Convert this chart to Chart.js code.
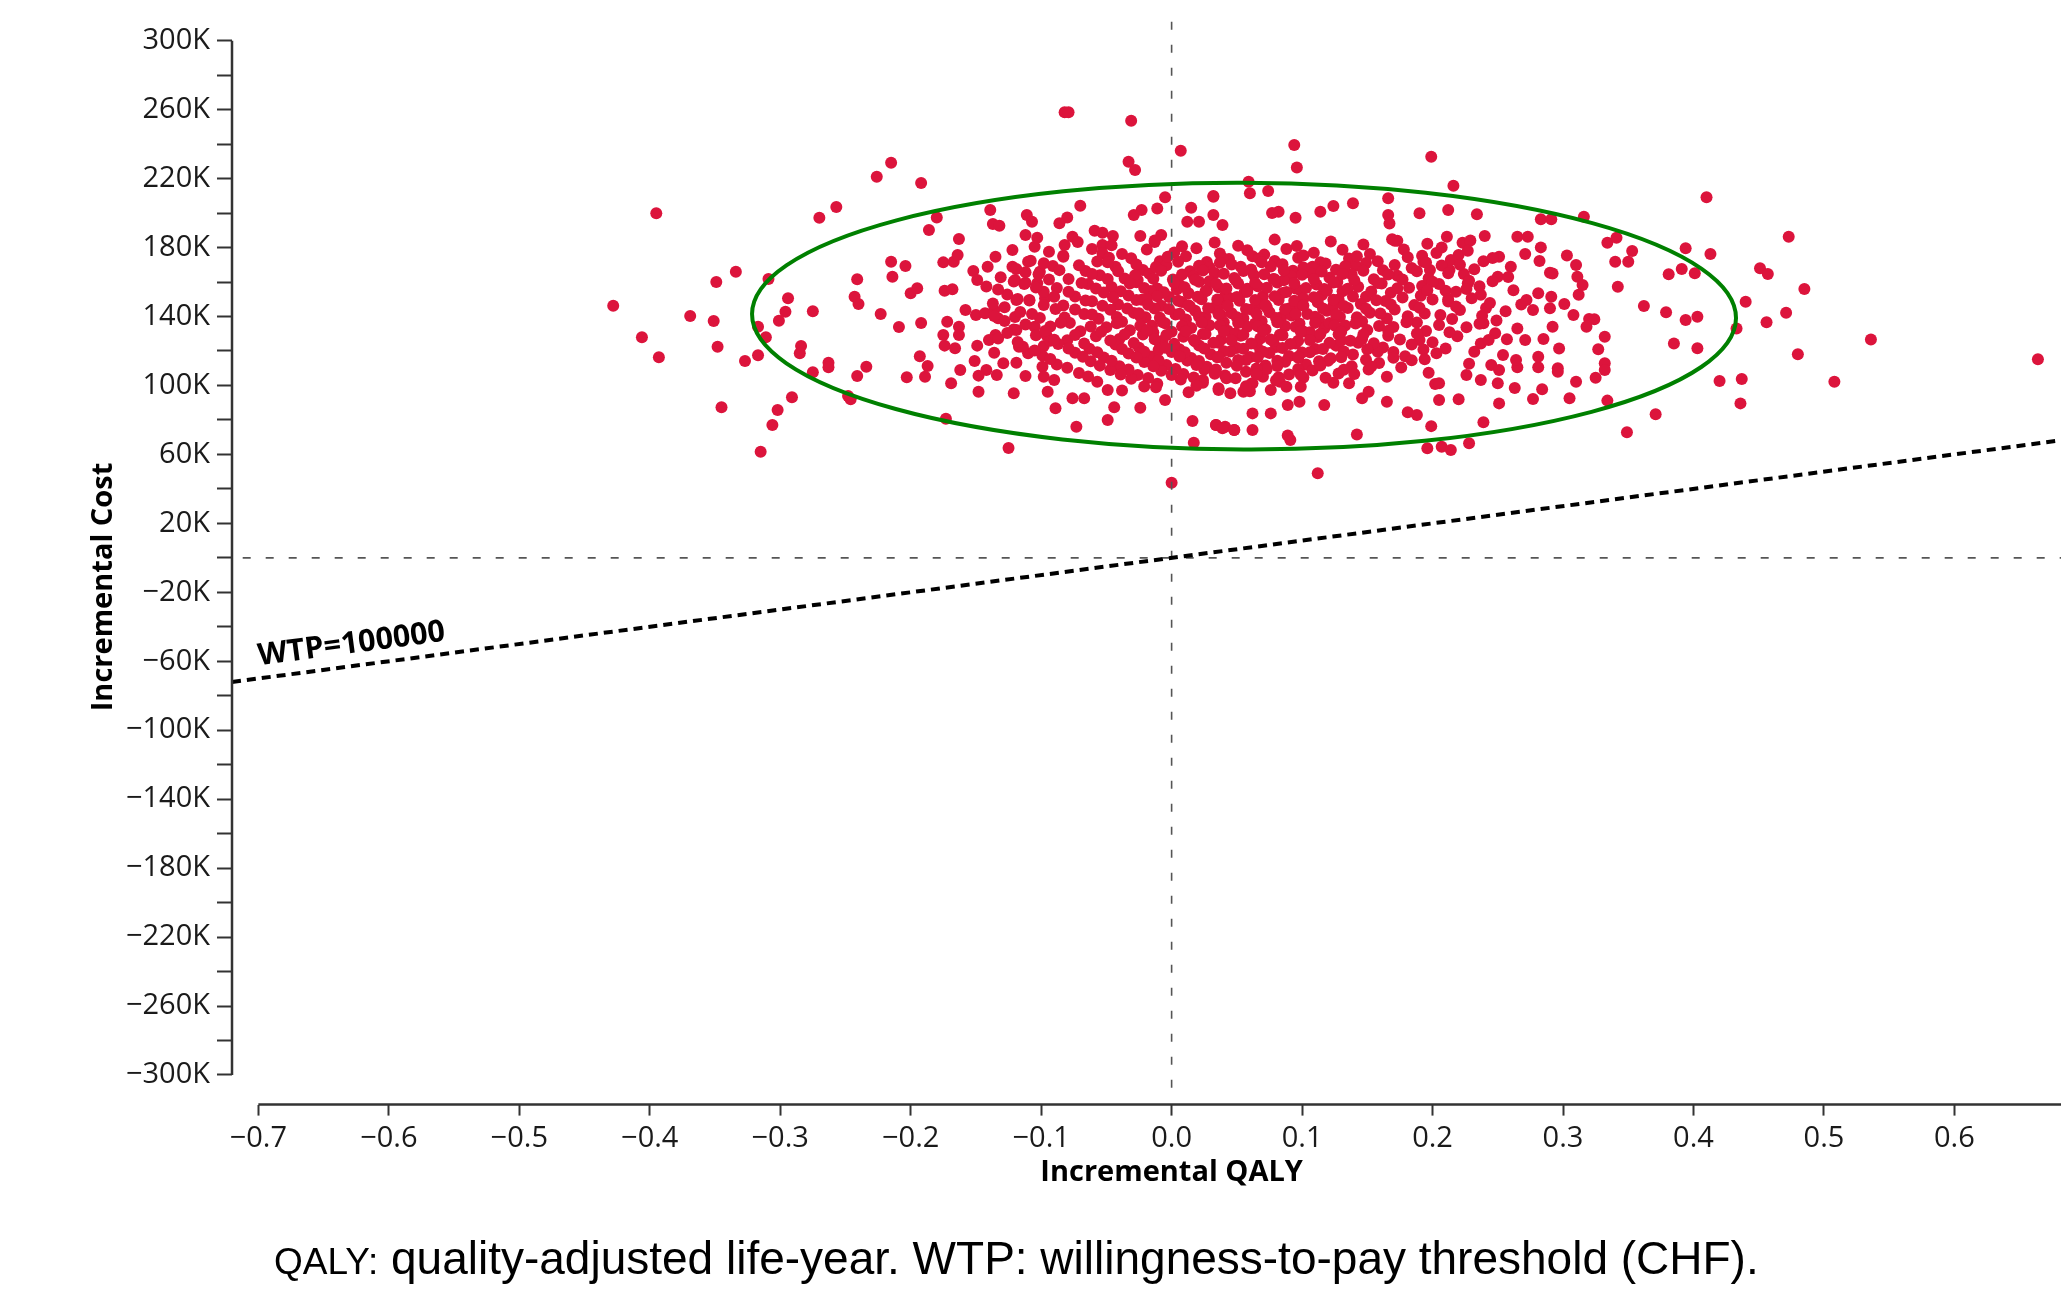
<!DOCTYPE html>
<html>
<head>
<meta charset="utf-8">
<title>Cost-effectiveness plane</title>
<script src="https://cdn.jsdelivr.net/npm/chart.js@4.4.1/dist/chart.umd.min.js"></script>
<style>
  html, body { margin: 0; padding: 0; background: #fff; }
  #wrap { position: relative; width: 2067px; height: 1291px; overflow: hidden; }
  #plane { position: absolute; left: 0; top: 0; }
  #caption {
    position: absolute; left: 274px; top: 1235px;
    font-family: 'Liberation Sans', Arial, sans-serif; font-size: 46px;
    line-height: 1; color: #000; white-space: nowrap;
  }
  #caption .abbr { font-size: 37px; }
</style>
</head>
<body>
<div id="wrap">
  <canvas id="plane" width="2067" height="1291"></canvas>
  <div id="caption"><span class="abbr">QALY:</span> quality-adjusted life-year. WTP: willingness-to-pay threshold (CHF).</div>
</div>
<script>
// axis ranges (the plot is cut off on the right, as in the original)
var X_MIN = -0.7202;
var X_MAX = 0.6817;
var Y_MIN = -317200;
var Y_MAX = 300000;
var WTP = 100000;

var xTickValues = [-0.7, -0.6, -0.5, -0.4, -0.3, -0.2, -0.1, 0.0, 0.1, 0.2, 0.3, 0.4, 0.5, 0.6];
var xTickLabels = ['\u22120.7', '\u22120.6', '\u22120.5', '\u22120.4', '\u22120.3', '\u22120.2', '\u22120.1',
  '0.0', '0.1', '0.2', '0.3', '0.4', '0.5', '0.6'];

var yTickValues = [300000, 280000, 260000, 240000, 220000, 200000, 180000, 160000, 140000, 120000,
  100000, 80000, 60000, 40000, 20000, 0, -20000, -40000, -60000, -80000, -100000, -120000,
  -140000, -160000, -180000, -200000, -220000, -240000, -260000, -280000, -300000];
var yTickLabels = ['300K', '', '260K', '', '220K', '', '180K', '', '140K', '', '100K', '', '60K', '',
  '20K', '', '\u221220K', '', '\u221260K', '', '\u2212100K', '', '\u2212140K', '', '\u2212180K', '',
  '\u2212220K', '', '\u2212260K', '', '\u2212300K'];

// reference lines
var wtpLineQaly = [X_MIN, X_MAX];
var zeroCostQaly = [-0.712, X_MAX];
var zeroQalyCost = [311000, -313000];
var wtpLabelQaly = -0.6264;

// 95% ellipse: ends of the long axis (QALY, cost) and half of the short axis (cost)
var ellipseEnds = [[-0.3216, 141400], [0.4326, 139100]];
var ellipseHalfCost = 77400;

// bootstrap draws: [incremental QALY, incremental cost in thousands]
var psaDraws = [
  [-0.428,146.3],[-0.395,199.9],[-0.406,127.9],[-0.393,116.3],[-0.369,140.3],[-0.349,160.0],[-0.351,137.4],
  [-0.348,122.5],[-0.334,166.0],[-0.345,87.3],[-0.327,114.2],[-0.317,117.5],[-0.315,61.6],[-0.306,77.1],
  [-0.302,85.8],[-0.291,93.1],[-0.309,161.8],[-0.294,150.6],[-0.296,142.8],[-0.301,137.6],[-0.317,134.1],
  [-0.311,127.9],[-0.275,143.0],[-0.284,122.9],[-0.285,118.7],[-0.275,107.6],[-0.263,113.2],[-0.263,110.5],
  [-0.270,197.3],[-0.257,203.5],[-0.226,221.1],[-0.215,229.2],[-0.192,217.5],[-0.180,197.5],[-0.186,190.2],
  [-0.248,93.9],[-0.246,92.0],[-0.241,105.5],[-0.234,110.9],[-0.203,104.7],[-0.189,105.1],[-0.187,111.3],
  [-0.193,116.9],[-0.173,80.7],[-0.125,63.7],[-0.243,151.5],[-0.240,147.3],[-0.241,161.6],[-0.223,141.5],
  [-0.209,133.9],[-0.192,136.2],[-0.215,171.8],[-0.204,169.3],[-0.214,163.1],[-0.200,153.5],[-0.195,156.4],
  [-0.175,171.4],[-0.167,171.8],[-0.163,185.0],[-0.164,175.7],[-0.174,155.0],[-0.168,155.8],[-0.152,166.4],
  [-0.149,161.2],[-0.141,168.9],[-0.135,174.7],[-0.139,201.8],[-0.137,193.7],[-0.132,192.7],[-0.122,178.6],
  [-0.111,198.9],[-0.107,195.0],[-0.112,187.3],[-0.103,185.7],[-0.105,180.5],[-0.122,168.9],[-0.120,161.2],
  [-0.110,171.8],[-0.101,166.0],[-0.113,158.9],[-0.103,159.3],[-0.119,149.6],[-0.109,149.6],[-0.097,150.6],
  [-0.120,139.7],[-0.158,143.8],[-0.150,140.9],[-0.143,141.9],[-0.136,143.8],[-0.133,139.0],[-0.172,137.0],
  [-0.163,134.1],[-0.175,129.3],[-0.163,129.3],[-0.174,123.1],[-0.166,121.6],[-0.149,123.1],[-0.140,126.4],
  [-0.135,129.3],[-0.119,132.2],[-0.136,119.0],[-0.151,114.2],[-0.142,109.0],[-0.162,109.0],[-0.148,105.7],
  [-0.134,106.1],[-0.129,112.9],[-0.119,113.2],[-0.169,101.3],[-0.148,96.4],[-0.121,95.5],[-0.112,105.5],
  [-0.117,122.5],[-0.110,118.7],[-0.105,134.1],[-0.096,129.3],[-0.098,122.9],[-0.093,126.0],[-0.099,110.9],
  [-0.098,105.1],[-0.090,103.2],[-0.095,96.4],[-0.089,86.8],[-0.073,76.1],[-0.076,92.6],[-0.067,92.6],
  [-0.049,80.0],[-0.049,97.4],[-0.044,87.3],[-0.024,87.1],[-0.005,91.6],[0.000,43.6],[0.016,79.4],
  [0.017,66.8],[0.034,77.1],[0.048,74.2],[0.041,76.1],[-0.082,258.5],[-0.079,258.5],[-0.031,253.6],
  [0.007,236.2],[-0.033,229.8],[-0.028,225.0],[-0.005,209.2],[-0.011,202.6],[-0.029,198.9],[-0.023,201.8],
  [-0.070,204.3],[-0.080,197.5],[-0.086,194.1],[-0.076,186.3],[-0.082,181.5],[-0.083,175.3],[-0.059,189.8],
  [-0.053,188.6],[-0.045,186.7],[-0.053,181.5],[-0.053,176.7],[-0.024,186.7],[0.012,195.0],[0.015,203.1],
  [0.032,209.9],[0.021,195.0],[0.032,198.9],[0.039,193.1],[-0.008,187.3],[-0.013,183.2],
  [0.094,239.5],[0.096,226.5],[0.199,232.7],[0.216,215.9],[0.410,209.2],[0.473,186.3],[0.394,179.6],
  [0.413,176.3],[0.451,168.0],[0.457,164.7],[0.485,156.0],[0.381,164.5],[0.391,167.6],[0.401,165.1],
  [0.440,148.6],[0.471,142.2],[0.456,136.6],[0.433,133.1],[0.536,126.6],[0.480,118.1],[0.664,115.2],
  [0.508,102.2],[0.420,102.6],[0.437,103.7],[0.436,89.6],[0.371,83.3],[0.349,72.8],[0.362,146.1],
  [0.379,142.4],[0.394,138.0],[0.403,139.9],[0.385,124.4],[0.403,121.6],[0.342,157.3],[0.340,171.8],
  [0.350,171.8],[0.353,178.0],[0.334,182.8],[0.341,185.7],[0.316,197.9],[0.283,196.4],[0.291,196.4],
  [0.234,199.3],[0.212,201.8],[0.190,199.9],[0.166,208.6],[0.139,205.7],[0.032,209.5],[0.060,211.5],
  [0.059,218.2],[0.074,212.8],[0.124,204.1],[0.114,200.8],[0.082,200.8],[0.077,200.0],[0.095,197.3],
  [0.166,198.9],[0.167,194.0],[0.169,184.8],[0.173,184.0],[0.211,186.3],[0.207,180.0],[0.223,182.8],
  [0.240,186.7],[0.265,186.3],[0.273,186.3],[0.282,172.2],[0.290,165.4],[0.292,165.0],[0.310,169.9],
  [0.311,163.1],[0.315,158.3],[0.312,152.6],[0.251,174.7],[0.260,168.9],[0.239,172.0],[0.250,163.1],
  [0.213,167.0],[0.220,175.7],[0.193,171.8],[0.198,167.0],[0.192,157.7],[0.210,155.0],[0.212,150.0],
  [0.227,159.3],[0.237,152.6],[0.241,144.9],[0.256,143.0],[0.268,146.9],
  [0.265,133.1],[0.271,126.4],[0.272,149.6],[0.277,143.8],[0.281,153.5],[0.291,151.5],[0.290,144.8],
  [0.292,134.1],[0.308,140.9],[0.320,138.6],[0.324,138.4],[0.318,134.1],[0.332,128.3],[0.327,121.0],
  [0.332,112.9],[0.332,109.0],[0.325,104.5],[0.310,102.2],[0.305,92.6],[0.334,91.2],[0.284,97.8],
  [0.277,92.2],[0.296,110.0],[0.296,108.0],[0.281,110.5],[0.281,116.7],[0.265,110.5],[0.264,114.8],
  [0.250,101.3],[0.251,89.6],[0.239,78.6],[0.220,92.0],[0.205,91.6],[0.202,100.9],[0.197,107.4],
  [0.205,101.3],[0.226,106.1],[0.237,103.2],[0.245,111.9],[0.251,109.0],[0.237,124.4],[0.248,130.3],
  [0.243,126.4],[0.239,136.1],
  [0.232,119.5],[0.257,126.8],[0.262,155.2],[0.246,160.4],[0.271,176.3],[0.229,184.1],[0.285,126.9],
  [0.301,147.2],[0.297,121.4],[0.254,117.6],[0.228,112.6],[0.263,98.5],[0.283,180.1],[0.303,175.4],
  [0.196,63.5],[0.207,64.5],[0.214,62.6],[0.228,66.5],[0.199,76.4],[0.142,71.6],[0.112,49.0],
  [0.091,68.4],[0.089,71.0],[0.062,74.2],[0.048,74.2],[0.034,77.1],[0.039,75.2],[0.076,83.8],
  [0.062,83.8],[0.117,88.7],[0.181,84.4],[0.188,82.9],[0.165,90.6],[0.146,92.6],[0.151,96.4],
  [0.136,101.3],[0.089,88.7],[0.098,90.6],[0.076,97.4],[0.083,102.2],[0.070,105.1],[0.062,101.3],
  [0.036,97.4],[0.045,95.5],[0.055,96.4],[0.024,103.2],
  // dense core
  [-0.072,183.2],[-0.046,181.4],[-0.013,184.1],[0.008,180.7],[0.033,182.9],[0.051,181.1],[0.079,184.6],
  [0.096,180.9],[0.122,183.5],[0.147,181.8],[0.171,184.0],[0.196,182.2],
  [-0.094,177.5],[-0.061,179.2],[-0.038,176.3],[-0.019,178.8],[0.002,177.1],[0.019,179.6],[0.037,176.6],
  [0.058,178.4],[0.071,175.9],[0.088,179.1],[0.109,177.0],[0.131,178.7],[0.152,176.2],[0.178,178.9],
  [0.203,176.8],[0.227,178.1],
  [-0.108,172.4],[-0.083,174.6],[-0.057,171.9],[-0.031,173.8],[-0.009,172.1],[0.011,174.9],[0.027,171.6],
  [0.044,173.3],[0.062,175.0],[0.079,172.2],[0.097,174.1],[0.114,171.5],[0.136,173.7],[0.158,172.0],
  [0.181,174.4],[0.214,172.8],[0.246,173.9],
  [-0.119,167.6],[-0.091,169.3],[-0.066,166.4],[-0.043,168.9],[-0.022,167.0],[-0.004,169.7],[0.014,166.2],
  [0.029,168.5],[0.046,170.1],[0.061,167.3],[0.076,169.0],[0.093,166.6],[0.108,168.8],[0.126,167.1],
  [0.141,169.4],[0.162,166.9],[0.184,168.2],[0.207,169.6],[0.232,167.4],
  [-0.131,162.8],[-0.102,164.5],[-0.079,161.7],[-0.055,163.9],[-0.036,162.0],[-0.017,164.8],[0.001,161.4],
  [0.017,163.6],[0.033,165.2],[0.048,162.3],[0.063,164.1],[0.078,161.8],[0.092,163.4],[0.107,165.0],
  [0.121,162.5],[0.138,164.3],[0.155,161.6],[0.173,163.7],[0.197,162.2],[0.224,164.6],[0.258,162.9],
  [-0.142,157.4],[-0.112,159.6],[-0.088,156.5],[-0.064,158.8],[-0.046,157.1],[-0.027,159.9],[-0.011,156.3],
  [0.006,158.4],[0.021,160.1],[0.036,156.9],[0.051,159.2],[0.066,157.6],[0.081,159.7],[0.095,156.2],
  [0.111,158.5],[0.127,160.0],[0.143,157.3],[0.161,159.1],[0.182,156.7],[0.205,158.9],[0.236,157.5],
  [-0.126,152.7],[-0.098,154.4],[-0.074,151.6],[-0.052,153.9],[-0.033,152.2],[-0.016,154.8],[-0.002,151.3],
  [0.013,153.5],[0.027,155.1],[0.041,152.0],[0.056,154.2],[0.070,151.8],[0.085,153.6],[0.099,155.0],
  [0.115,152.4],[0.131,154.6],[0.149,151.5],[0.168,153.8],[0.191,152.1],[0.218,154.3],
  [-0.137,147.5],[-0.109,149.3],[-0.083,146.4],[-0.061,148.8],[-0.041,147.0],[-0.023,149.7],[-0.008,146.2],
  [0.008,148.4],[0.023,150.0],[0.037,146.8],[0.052,149.1],[0.067,147.4],[0.082,149.6],[0.096,146.1],
  [0.112,148.3],[0.128,149.9],[0.145,147.2],[0.164,149.0],[0.186,146.6],[0.212,148.7],[0.244,147.8],
  [-0.116,142.6],[-0.089,144.3],[-0.067,141.5],[-0.047,143.9],[-0.029,142.1],[-0.013,144.7],[0.003,141.2],
  [0.018,143.4],[0.032,145.0],[0.046,141.9],[0.061,144.1],[0.075,142.5],[0.090,144.6],[0.104,141.4],
  [0.119,143.3],[0.135,144.9],[0.152,142.2],[0.171,144.0],[0.194,141.7],[0.221,143.8],
  [-0.128,137.4],[-0.101,139.2],[-0.078,136.3],[-0.056,138.7],[-0.038,137.0],[-0.020,139.6],[-0.005,136.1],
  [0.011,138.3],[0.026,139.9],[0.040,136.7],[0.055,139.0],[0.069,137.3],[0.084,139.5],[0.098,136.0],
  [0.113,138.2],[0.129,139.8],[0.146,137.1],[0.165,138.9],[0.188,136.5],[0.215,138.6],[0.249,137.7],
  [-0.121,132.5],[-0.093,134.2],[-0.070,131.4],[-0.050,133.8],[-0.032,132.0],[-0.015,134.6],[0.000,131.1],
  [0.015,133.3],[0.029,134.9],[0.043,131.8],[0.058,134.0],[0.072,132.4],[0.087,134.5],[0.101,131.3],
  [0.117,133.2],[0.133,134.8],[0.150,132.1],[0.170,133.9],[0.195,131.6],[0.226,133.7],
  [-0.133,127.3],[-0.104,129.1],[-0.080,126.2],[-0.058,128.6],[-0.040,126.9],[-0.022,129.5],[-0.007,126.0],
  [0.009,128.2],[0.024,129.8],[0.038,126.6],[0.053,128.9],[0.068,127.2],[0.083,129.4],[0.097,125.9],
  [0.112,128.1],[0.128,129.7],[0.146,127.0],[0.166,128.8],[0.190,126.4],[0.219,128.5],
  [-0.114,122.4],[-0.087,124.1],[-0.063,121.3],[-0.043,123.7],[-0.025,121.9],[-0.009,124.5],[0.006,121.0],
  [0.021,123.2],[0.036,124.8],[0.050,121.7],[0.065,123.9],[0.080,122.3],[0.095,124.4],[0.110,121.2],
  [0.126,123.1],[0.143,124.7],[0.162,122.0],[0.184,123.8],[0.210,121.5],
  [-0.099,117.3],[-0.074,119.0],[-0.052,116.2],[-0.033,118.6],[-0.016,116.8],[0.000,119.4],[0.015,115.9],
  [0.030,118.1],[0.045,119.7],[0.060,116.5],[0.075,118.8],[0.090,117.1],[0.106,119.3],[0.122,115.8],
  [0.139,118.0],[0.158,119.6],[0.179,116.9],[0.203,118.7],
  [-0.088,112.2],[-0.062,114.0],[-0.040,111.1],[-0.021,113.6],[-0.004,111.8],[0.012,114.4],[0.027,110.9],
  [0.042,113.1],[0.057,114.7],[0.072,111.6],[0.087,113.8],[0.103,112.2],[0.120,114.3],[0.138,111.1],
  [0.159,113.0],[0.184,114.6],
  [-0.071,107.2],[-0.047,109.0],[-0.026,106.1],[-0.008,108.5],[0.009,106.7],[0.025,109.3],[0.041,105.8],
  [0.057,108.0],[0.073,109.6],[0.090,106.4],[0.108,108.7],[0.128,107.0],[0.151,109.2],
  [-0.057,102.1],[-0.031,103.9],[-0.011,101.0],[0.007,103.4],[0.024,101.6],[0.042,104.2],[0.061,100.8],
  [0.080,103.0],[0.101,104.6],[0.124,101.5],
  [-0.038,97.1],[-0.012,98.9],[0.013,96.0],[0.036,98.4],[0.060,96.7],[0.088,99.2],
  [-0.026,161.2],[0.004,155.6],[0.029,160.5],[0.058,156.1],[0.086,161.0],[0.117,155.9],
  [-0.019,150.3],[0.014,145.8],[0.044,150.9],[0.073,145.2],[0.101,150.4],[0.124,146.3],
  [-0.024,140.1],[0.010,135.4],[0.038,140.8],[0.064,135.9],[0.092,140.6],[0.121,136.2],
  [-0.014,130.7],[0.018,125.5],[0.049,130.2],[0.078,125.8],[0.106,130.9],[0.130,126.1],
  [-0.010,120.6],[0.035,116.4],[0.068,120.2],[0.097,116.0],
  // second layer of the core, between the rows above
  [-0.048,174.1],[-0.003,174.6],[0.039,174.0],[0.067,173.7],[0.101,175.4],[0.142,174.9],[0.192,175.3],
  [-0.098,170.9],[-0.071,169.8],[-0.049,171.5],[-0.027,170.1],[-0.012,168.7],[0.005,171.8],[0.021,169.4],
  [0.037,171.2],[0.053,168.9],[0.069,171.4],[0.085,170.3],[0.101,168.4],[0.118,170.7],[0.133,169.2],
  [0.149,171.0],[0.171,169.9],[0.195,171.3],[0.221,170.0],
  [-0.112,165.7],[-0.086,166.9],[-0.061,164.6],[-0.041,166.2],[-0.028,164.0],[-0.008,166.5],[0.008,164.3],
  [0.024,166.7],[0.040,164.8],[0.055,166.4],[0.071,164.5],[0.086,166.8],[0.100,164.2],[0.115,166.1],
  [0.131,164.7],[0.147,166.6],[0.166,164.4],[0.188,166.3],[0.212,165.1],
  [-0.121,160.3],[-0.094,161.5],[-0.069,159.4],[-0.049,161.7],[-0.032,159.2],[-0.014,161.9],[0.002,159.6],
  [0.018,161.3],[0.034,159.0],[0.049,161.2],[0.064,159.5],[0.079,161.6],[0.094,159.3],[0.109,161.8],
  [0.124,159.7],[0.140,161.1],[0.158,159.4],[0.177,161.5],[0.200,160.2],[0.228,160.8],
  [-0.133,155.6],[-0.104,156.8],[-0.079,154.3],[-0.058,156.2],[-0.039,154.6],[-0.021,156.6],[-0.006,154.1],
  [0.010,156.9],[0.026,154.7],[0.042,156.3],[0.058,154.4],[0.073,156.7],[0.088,154.2],[0.103,156.5],
  [0.119,154.9],[0.135,156.1],[0.153,154.5],[0.173,156.4],[0.196,155.2],[0.226,155.9],
  [-0.118,150.2],[-0.090,151.4],[-0.066,149.3],[-0.045,151.1],[-0.027,149.6],[-0.011,151.8],[0.005,149.2],
  [0.020,151.5],[0.035,149.8],[0.050,151.3],[0.064,149.5],[0.079,151.7],[0.094,149.1],[0.109,151.2],
  [0.124,149.7],[0.139,151.6],[0.157,149.4],[0.177,151.0],[0.200,149.9],[0.230,150.6],
  [-0.128,145.4],[-0.098,146.6],[-0.074,144.1],[-0.053,146.3],[-0.034,144.6],[-0.018,146.8],[-0.002,144.3],
  [0.013,146.5],[0.028,144.8],[0.043,146.2],[0.057,144.4],[0.072,146.7],[0.087,144.2],[0.101,146.4],
  [0.116,144.7],[0.132,146.1],[0.149,144.5],[0.168,146.9],[0.190,145.1],[0.218,145.8],
  [-0.136,140.3],[-0.107,141.5],[-0.082,139.4],[-0.061,141.2],[-0.042,139.7],[-0.025,141.9],[-0.009,139.3],
  [0.006,141.6],[0.021,139.8],[0.036,141.3],[0.050,139.5],[0.065,141.8],[0.080,139.2],[0.095,141.4],
  [0.110,139.9],[0.126,141.1],[0.142,139.6],[0.160,141.7],[0.181,140.1],[0.206,140.9],[0.238,140.4],
  [-0.112,135.3],[-0.085,136.4],[-0.062,134.2],[-0.042,136.1],[-0.024,134.6],[-0.007,136.8],[0.008,134.3],
  [0.023,136.5],[0.037,134.9],[0.051,136.2],[0.066,134.4],[0.081,136.6],[0.095,134.1],[0.110,136.3],
  [0.125,134.8],[0.141,136.0],[0.159,134.5],[0.180,136.7],[0.205,135.1],[0.236,135.8],
  [-0.126,130.4],[-0.097,131.6],[-0.074,129.3],[-0.054,131.2],[-0.036,129.6],[-0.019,131.9],[-0.004,129.2],
  [0.011,131.5],[0.026,129.8],[0.040,131.4],[0.055,129.4],[0.070,131.7],[0.085,129.1],[0.099,131.3],
  [0.114,129.9],[0.130,131.2],[0.147,129.5],[0.166,131.8],[0.188,130.1],[0.213,130.9],
  [-0.118,125.2],[-0.090,126.5],[-0.067,124.3],[-0.047,126.1],[-0.029,124.6],[-0.013,126.8],[0.002,124.2],
  [0.017,126.4],[0.032,124.8],[0.046,126.2],[0.061,124.4],[0.076,126.6],[0.091,124.1],[0.106,126.3],
  [0.121,124.7],[0.137,126.0],[0.155,124.5],[0.175,126.7],[0.200,125.1],
  [-0.105,120.3],[-0.079,121.4],[-0.057,119.2],[-0.038,121.1],[-0.021,119.6],[-0.005,121.8],[0.010,119.3],
  [0.025,121.5],[0.040,119.8],[0.055,121.3],[0.070,119.5],[0.085,121.7],[0.100,119.1],[0.116,121.2],
  [0.132,119.7],[0.150,121.0],[0.170,119.4],[0.193,120.9],
  [-0.093,115.4],[-0.068,116.6],[-0.046,114.3],[-0.027,116.2],[-0.010,114.6],[0.006,116.8],[0.021,114.2],
  [0.036,116.5],[0.051,114.8],[0.066,116.3],[0.081,114.4],[0.097,116.7],[0.113,114.1],[0.130,116.4],
  [0.149,114.9],[0.170,116.1],[0.194,115.2],
  [-0.080,110.3],[-0.055,111.5],[-0.033,109.3],[-0.014,111.2],[0.003,109.6],[0.019,111.8],[0.034,109.2],
  [0.050,111.4],[0.065,109.8],[0.081,111.3],[0.097,109.5],[0.114,111.6],[0.132,109.1],[0.153,111.0],
  [0.176,110.4],
  [-0.064,105.2],[-0.039,106.4],[-0.018,104.3],[0.000,106.1],[0.017,104.6],[0.033,106.8],[0.049,104.2],
  [0.065,106.5],[0.082,104.8],[0.099,106.2],[0.118,104.4],[0.140,106.6],[0.165,105.1],
  [-0.021,99.4],[0.019,99.8],[0.057,99.6],[0.099,99.2]
];

var TICK_FONT = { family: "'Open Sans', 'Noto Sans', sans-serif", size: 29 };
var INK = '#1a1a1a';

var decor = {
  id: 'decor',
  afterDatasetsDraw: function (chart) {
    var ctx = chart.ctx, xs = chart.scales.x, ys = chart.scales.y;
    // confidence ellipse
    var ax = xs.getPixelForValue(ellipseEnds[0][0]), ay = ys.getPixelForValue(ellipseEnds[0][1]);
    var bx = xs.getPixelForValue(ellipseEnds[1][0]), by = ys.getPixelForValue(ellipseEnds[1][1]);
    var rx = Math.hypot(bx - ax, by - ay) / 2;
    var ry = Math.abs(ys.getPixelForValue(0) - ys.getPixelForValue(ellipseHalfCost));
    ctx.save();
    ctx.beginPath();
    ctx.ellipse((ax + bx) / 2, (ay + by) / 2, rx, ry, Math.atan2(by - ay, bx - ax), 0, Math.PI * 2);
    ctx.strokeStyle = '#008000';
    ctx.lineWidth = 4;
    ctx.stroke();
    ctx.restore();
  },
  afterDraw: function (chart) {
    var ctx = chart.ctx, xs = chart.scales.x, ys = chart.scales.y, area = chart.chartArea;
    ctx.save();
    // axis lines: y from 300K to -300K, x from -0.7 to the right edge
    ctx.strokeStyle = '#333';
    ctx.lineWidth = 2.5;
    ctx.beginPath();
    ctx.moveTo(area.left, ys.getPixelForValue(yTickValues[0]));
    ctx.lineTo(area.left, ys.getPixelForValue(yTickValues[yTickValues.length - 1]));
    ctx.moveTo(xs.getPixelForValue(xTickValues[0]), area.bottom);
    ctx.lineTo(area.right, area.bottom);
    ctx.stroke();

    // axis titles
    ctx.fillStyle = '#000';
    ctx.font = "bold 29px 'Open Sans', 'Noto Sans', sans-serif";
    ctx.textAlign = 'center';
    ctx.textBaseline = 'alphabetic';
    ctx.fillText('Incremental QALY', xs.getPixelForValue(0), area.bottom + 76);
    ctx.save();
    ctx.translate(112, 587);
    ctx.rotate(-Math.PI / 2);
    ctx.fillText('Incremental Cost', 0, 0);
    ctx.restore();

    // WTP label, following the slope of the line
    var x0 = xs.getPixelForValue(wtpLineQaly[0]), y0 = ys.getPixelForValue(WTP * wtpLineQaly[0]);
    var x1 = xs.getPixelForValue(wtpLineQaly[1]), y1 = ys.getPixelForValue(WTP * wtpLineQaly[1]);
    var ang = Math.atan2(y1 - y0, x1 - x0);
    ctx.translate(xs.getPixelForValue(wtpLabelQaly), ys.getPixelForValue(WTP * wtpLabelQaly));
    ctx.rotate(ang);
    ctx.font = "bold 30.5px 'Open Sans', 'Noto Sans', sans-serif";
    ctx.fillText('WTP=' + WTP, 0, -13);
    ctx.restore();
  }
};

new Chart(document.getElementById('plane'), {
  type: 'scatter',
  data: {
    datasets: [
      {
        label: 'WTP',
        data: wtpLineQaly.map(function (q) { return { x: q, y: WTP * q }; }),
        showLine: true,
        borderColor: '#000',
        borderWidth: 4,
        borderDash: [9, 6],
        pointRadius: 0,
        clip: false,
        order: 1,
      },
      {
        label: 'zero cost',
        data: zeroCostQaly.map(function (q) { return { x: q, y: 0 }; }),
        showLine: true,
        borderColor: '#555',
        borderWidth: 1.6,
        borderDash: [8, 15],
        pointRadius: 0,
        clip: false,
        order: 2,
      },
      {
        label: 'zero QALY',
        data: zeroQalyCost.map(function (c) { return { x: 0, y: c }; }),
        showLine: true,
        borderColor: '#555',
        borderWidth: 1.6,
        borderDash: [8, 15],
        pointRadius: 0,
        clip: false,
        order: 3,
      },
      {
        label: 'Bootstrap draws',
        data: psaDraws.map(function (d) { return { x: d[0], y: d[1] * 1000 }; }),
        backgroundColor: '#dc143c',
        borderWidth: 0,
        pointRadius: 6,
        order: 4,
      },
    ],
  },
  options: {
    responsive: false,
    animation: false,
    events: [],
    layout: { padding: { top: 40.7, left: 0, right: 0, bottom: 106.4 } },
    plugins: {
      legend: { display: false },
      tooltip: { enabled: false },
    },
    scales: {
      x: {
        type: 'linear',
        min: X_MIN,
        max: X_MAX,
        afterBuildTicks: function (scale) {
          scale.ticks = xTickValues.map(function (v) { return { value: v }; });
        },
        afterFit: function (scale) { scale.height = 80; },
        border: { display: false },
        grid: { drawOnChartArea: false, drawTicks: true, tickLength: 11, tickWidth: 2, tickColor: '#333' },
        ticks: {
          autoSkip: false,
          maxRotation: 0,
          padding: 6,
          color: INK,
          font: TICK_FONT,
          callback: function (v, i) { return xTickLabels[i]; },
        },
      },
      y: {
        type: 'linear',
        min: Y_MIN,
        max: Y_MAX,
        afterBuildTicks: function (scale) {
          scale.ticks = yTickValues.map(function (v) { return { value: v }; });
        },
        afterFit: function (scale) { scale.width = 232; },
        border: { display: false },
        grid: { drawOnChartArea: false, drawTicks: true, tickLength: 15, tickWidth: 2, tickColor: '#333' },
        ticks: {
          autoSkip: false,
          padding: 7,
          color: INK,
          font: TICK_FONT,
          callback: function (v, i) { return yTickLabels[i]; },
        },
      },
    },
  },
  plugins: [decor],
});
</script>
</body>
</html>
